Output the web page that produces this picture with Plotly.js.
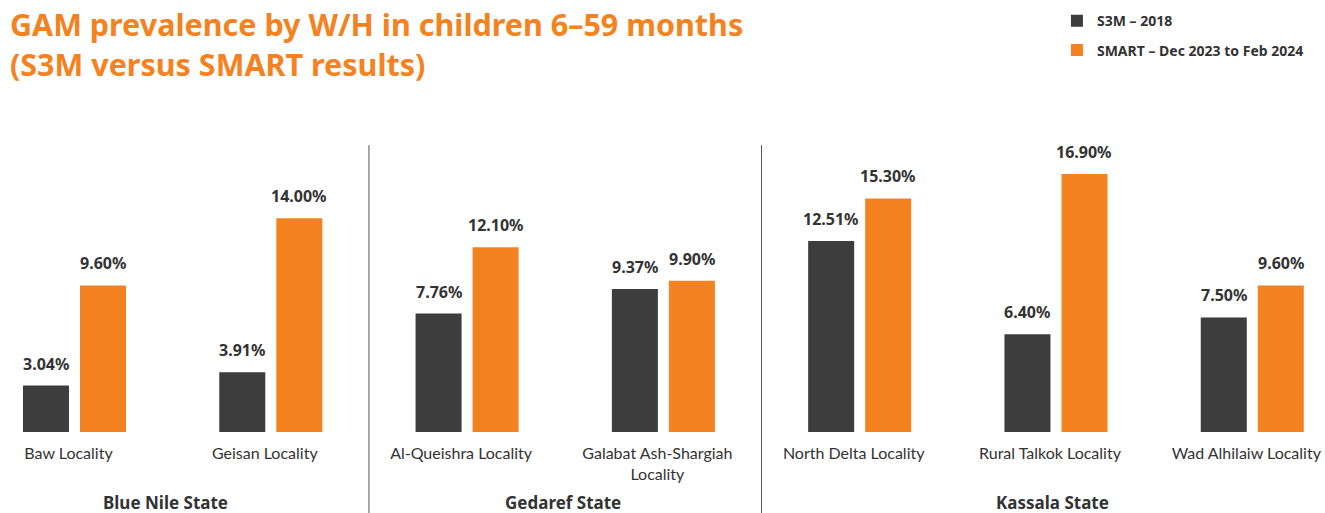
<!DOCTYPE html>
<html>
<head>
<meta charset="utf-8">
<script src="https://cdn.plot.ly/plotly-3.0.1.min.js"></script>
<style>html,body{margin:0;padding:0;background:#fff;}#chart{width:1325px;height:513px;}</style>
</head>
<body>
<div id="chart"></div>
<script>
const categories = ["Baw Locality", "Geisan Locality", "Al-Queishra Locality", "Galabat Ash-Shargiah<br>Locality", "North Delta Locality", "Rural Talkok Locality", "Wad Alhilaiw Locality"];
const s3m2018 = [3.04, 3.91, 7.76, 9.37, 12.51, 6.40, 7.50];
const smart2024 = [9.60, 14.00, 12.10, 9.90, 15.30, 16.90, 9.60];
const seriesNames = ["S3M – 2018", "SMART – Dec 2023 to Feb 2024"];
const groupNames = ["Blue Nile State", "Gedaref State", "Kassala State"];
const groupCenters = [0.5, 2.5, 5];
const separators = [1.5, 3.5];

const FONT = "Noto Sans, Lato, sans-serif";
const TICKFONT = "Lato, Noto Sans, sans-serif";
const DARK = "#3d3d3d", ORANGE = "#f58220", TXT = "#333333";

const traces = [
  {type:"bar", name:seriesNames[0], legendgroup:"a", x:categories, y:s3m2018, marker:{color:DARK}, hoverinfo:"skip"},
  {type:"bar", name:seriesNames[1], legendgroup:"b", x:categories, y:smart2024, marker:{color:ORANGE}, hoverinfo:"skip"}
];

const annotations = [];
[s3m2018, smart2024].forEach((vals, s) => {
  vals.forEach((v, i) => {
    annotations.push({x:i, y:v, xref:"x", yref:"y", text:"<b>"+v.toFixed(2)+"%</b>", showarrow:false,
      xanchor:"center", yanchor:"bottom", xshift: s===0 ? -28.5 : 28.5, yshift:9,
      font:{family:FONT, size:16, color:TXT}});
  });
});
const groupShift = [-7, -2, -3];
groupNames.forEach((g, k) => {
  annotations.push({x:groupCenters[k], y:-0.235, xref:"x", yref:"paper", text:"<b>"+g+"</b>", showarrow:false,
    xanchor:"center", yanchor:"middle", xshift:groupShift[k], font:{family:FONT, size:17, color:TXT}});
});

const shapes = separators.map(s => ({type:"line", xref:"x", yref:"paper", x0:s, x1:s, y0:0.95, y1:-0.3,
  line:{color:"#555555", width:1}}));

const layout = {
  width:1325, height:513,
  margin:{l:0, r:0, t:130, b:81},
  paper_bgcolor:"#ffffff", plot_bgcolor:"#ffffff",
  font:{family:FONT, color:TXT},
  title:{text:"<b>GAM prevalence by W/H in children 6–59 months<br>(S3M versus SMART results)</b>",
    xref:"container", yref:"container", x:0.0075, xanchor:"left", y:0.93, yanchor:"middle",
    font:{family:FONT, size:30.5, color:ORANGE}},
  barmode:"group", bargap:0.419, bargroupgap:0.193,
  xaxis:{type:"category", range:[-0.3795, 6.3705], showgrid:false, zeroline:false, showline:false,
    ticks:"", ticklabelstandoff:10, ticklabelshift:-6, tickfont:{family:TICKFONT, size:16, color:TXT}, fixedrange:true},
  yaxis:{range:[0, 19.78], visible:false, fixedrange:true},
  showlegend:true,
  legend:{x:0.7977, xanchor:"left", y:1.413, yanchor:"top", orientation:"v",
    font:{family:FONT, size:14, color:TXT, weight:"bold"}, bgcolor:"rgba(0,0,0,0)", tracegroupgap:8},
  annotations:annotations, shapes:shapes
};

Plotly.newPlot("chart", traces, layout, {displayModeBar:false, staticPlot:true});
</script>
</body>
</html>
